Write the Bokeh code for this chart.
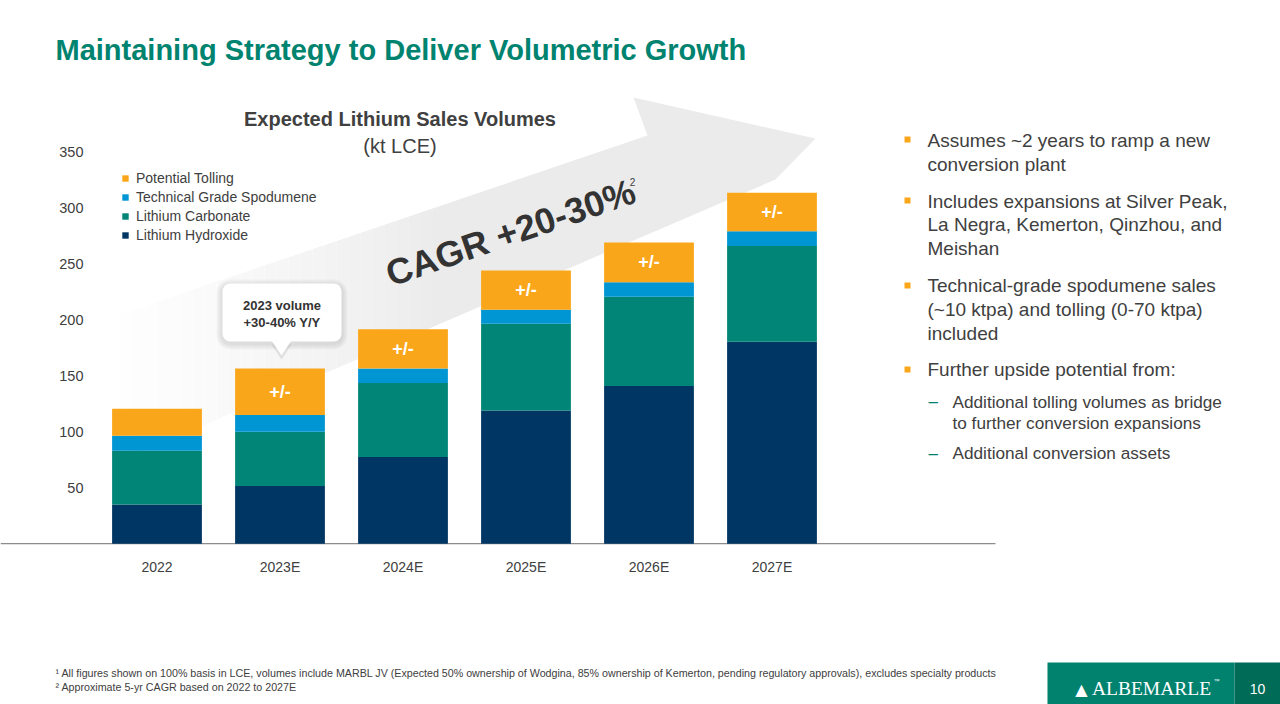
import numpy as np
from bokeh.plotting import figure
from bokeh.layouts import column
from bokeh.models import (ColumnDataSource, Range1d, FixedTicker, Legend, LegendItem, Label)
from bokeh.core.properties import value
from bokeh.embed import file_html
from bokeh.resources import INLINE

# ---------------- data ----------------
years = ["2022", "2023E", "2024E", "2025E", "2026E", "2027E"]
hydroxide = [35, 51.5, 77.5, 119, 141, 180.5]
carbonate = [48, 48.5, 66, 77.5, 79.5, 85.5]
spodumene = [13.5, 15, 13, 12.5, 13, 13]
tolling = [24, 41.5, 35, 35, 35.5, 34.5]
tolling_tags = ["", "+/-", "+/-", "+/-", "+/-", "+/-"]
series_keys = ["hydroxide", "carbonate", "spodumene", "tolling"]
series_names = ["Lithium Hydroxide", "Lithium Carbonate",
                "Technical Grade Spodumene", "Potential Tolling"]
series_colors = ["#003663", "#008576", "#0095D3", "#FAA61A"]
y_ticks = [50, 100, 150, 200, 250, 300, 350]

title_text = "Maintaining Strategy to Deliver Volumetric Growth"
chart_title = "Expected Lithium Sales Volumes"
chart_subtitle = "(kt LCE)"
cagr_text = "CAGR +20-30%"
callout_lines = ["2023 volume", "+30-40% Y/Y"]
bullets = [
    ["Assumes ~2 years to ramp a new", "conversion plant"],
    ["Includes expansions at Silver Peak,", "La Negra, Kemerton, Qinzhou, and", "Meishan"],
    ["Technical-grade spodumene sales", "(~10 ktpa) and tolling (0-70 ktpa)", "included"],
    ["Further upside potential from:"],
]
sub_bullets = [
    ["Additional tolling volumes as bridge", "to further conversion expansions"],
    ["Additional conversion assets"],
]
footnotes = [
    "\u00b9 All figures shown on 100% basis in LCE, volumes include MARBL JV (Expected 50% ownership of Wodgina, 85% ownership of Kemerton, pending regulatory approvals), excludes specialty products",
    "\u00b2 Approximate 5-yr CAGR based on 2022 to 2027E",
]
logo_text = "ALBEMARLE"
page_number = "10"

# ---------------- layout helpers ----------------
W, H = 1280, 704
CH = 600                 # chart figure height (page px)
FB = 544                 # frame bottom of chart figure
BASE = 543.3             # page y of value 0
X0, PITCH, PXU = 156.5, 123.0, 1.12  # first bar centre, bar pitch, px per unit


def X(px):
    return (px - X0) / PITCH


def Y(py):
    return (BASE - py) / PXU


FONT = "Liberation Sans"
DARK = "#404040"

p = figure(width=W, height=CH, x_range=Range1d(X(0), X(W)), y_range=Range1d(Y(FB), Y(0)),
           output_backend="svg", toolbar_location=None,
           min_border_left=0, min_border_right=0, min_border_top=0,
           min_border_bottom=CH - FB)
p.xgrid.visible = False
p.ygrid.visible = False
p.outline_line_color = None
p.background_fill_color = "white"
p.border_fill_color = "white"

# axes
p.xaxis.ticker = FixedTicker(ticks=list(range(len(years))))
p.xaxis.major_label_overrides = {i: y for i, y in enumerate(years)}
p.xaxis.major_tick_line_color = None
p.xaxis.minor_tick_line_color = None
p.xaxis.axis_line_color = None
p.xaxis.major_label_standoff = 8
p.xaxis.major_label_text_font = FONT
p.xaxis.major_label_text_font_size = "14px"
p.xaxis.major_label_text_color = DARK

p.yaxis.ticker = FixedTicker(ticks=y_ticks)
p.yaxis.axis_line_color = None
p.yaxis.major_tick_line_color = None
p.yaxis.minor_tick_line_color = None
p.yaxis.major_label_standoff = -89
p.yaxis.major_label_text_font = FONT
p.yaxis.major_label_text_font_size = "14.5px"
p.yaxis.major_label_text_color = DARK

# ---------------- background arrow ----------------
arrow_px = [(40, 341), (647, 135), (633, 97), (815, 138), (775, 179), (40, 495)]
p.patch([X(a) for a, b in arrow_px], [Y(b) for a, b in arrow_px],
        fill_color="#EBEBEB", line_color=None)
# fade of the arrow tail
edges = np.arange(0, 452, 12)
for a, b in zip(edges[:-1], edges[1:]):
    mid = (a + b) / 2
    alpha = float(np.clip((440 - mid) / 330.0, 0, 1) ** 0.8 * 0.97)
    p.quad(left=X(a), right=X(b + 0.5), bottom=Y(FB), top=Y(0), fill_color="white",
           fill_alpha=alpha, line_color=None)

# axis baseline (ends before the text column)
p.line(x=[X(0), X(995)], y=[0, 0], line_color="#8c8c8c", line_width=1.5)

# ---------------- stacked bars ----------------
src = ColumnDataSource(dict(x=list(range(len(years))), hydroxide=hydroxide,
                            carbonate=carbonate, spodumene=spodumene, tolling=tolling))
rs = p.vbar_stack(series_keys, x="x", width=0.73, color=series_colors, source=src,
                  line_width=0)

mids = [h + c + s + t / 2 for h, c, s, t in zip(hydroxide, carbonate, spodumene, tolling)]
tag_src = ColumnDataSource(dict(x=list(range(len(years))), y=mids, t=tolling_tags))
p.text(x="x", y="y", text="t", source=tag_src, text_font=value(FONT),
       text_font_style="bold", text_font_size="18px", text_color="white",
       text_align="center", text_baseline="middle")

legend = Legend(items=[LegendItem(label=series_names[k], renderers=[rs[k]]) for k in (3, 2, 1, 0)],
                location=(121, 301), glyph_width=8, glyph_height=8,
                label_standoff=7, spacing=3, padding=0, margin=0, border_line_color=None,
                background_fill_alpha=0, label_text_font=FONT,
                label_text_font_size="14px", label_text_color=DARK, label_height=16)
p.add_layout(legend)

# ---------------- callout ----------------


def rrect(x0, y0, x1, y1, r, n=8):
    pts = []
    for cx, cy, t0, t1 in [(x1 - r, y0 + r, -90, 0), (x1 - r, y1 - r, 0, 90),
                           (x0 + r, y1 - r, 90, 180), (x0 + r, y0 + r, 180, 270)]:
        for t in np.linspace(np.deg2rad(t0), np.deg2rad(t1), n):
            pts.append((cx + r * np.cos(t), cy + r * np.sin(t)))
    return [X(a) for a, b in pts], [Y(b) for a, b in pts]


bx0, by0, bx1, by1 = 222, 283, 341, 341
tri = [(271, 340), (281, 355), (291, 340)]
for g in (6, 4, 2):
    xs, ys = rrect(bx0 - g, by0 - g + 2, bx1 + g, by1 + g + 2, 8 + g)
    p.patch(xs, ys, fill_color="#000000", fill_alpha=0.035, line_color=None)
    p.patch([X(a) for a, b in tri], [Y(b + g / 2 + 2) for a, b in tri],
            fill_color="#000000", fill_alpha=0.03, line_color=None)
xs, ys = rrect(bx0, by0, bx1, by1, 8)
p.patch(xs, ys, fill_color="white", line_color=None)
p.patch([X(a) for a, b in tri], [Y(b) for a, b in tri], fill_color="white", line_color=None)
for i, line in enumerate(callout_lines):
    p.add_layout(Label(x=X(281.5), y=Y(305 + 17 * i), text=line, text_align="center",
                       text_baseline="middle", text_font=FONT, text_font_style="bold",
                       text_font_size="13px", text_color="#333333"))

# ---------------- chart titles ----------------
p.add_layout(Label(x=X(399.5), y=Y(118), text=chart_title, text_align="center",
                   text_baseline="middle", text_font=FONT, text_font_style="bold",
                   text_font_size="20px", text_color=DARK))
p.add_layout(Label(x=X(399.5), y=Y(145), text=chart_subtitle, text_align="center",
                   text_baseline="middle", text_font=FONT, text_font_size="20px",
                   text_color=DARK))

p.add_layout(Label(x=X(510), y=Y(232), text=cagr_text, angle=float(np.deg2rad(19)),
                   text_align="center", text_baseline="middle", text_font=FONT,
                   text_font_style="bold", text_font_size="36px", text_color="#333333"))
p.add_layout(Label(x=X(632), y=Y(181), text="2", text_align="center",
                   text_baseline="middle", text_font=FONT, text_font_size="10px",
                   text_color=DARK))

# ---------------- page title ----------------
p.add_layout(Label(x=X(55), y=Y(49), text=title_text, text_align="left",
                   text_baseline="middle", text_font=FONT, text_font_style="bold",
                   text_font_size="29px", text_color="#00836F"))

# ---------------- bullets ----------------
bullet_centers = [[140, 164], [200.5, 224, 248], [285, 309, 332.5], [369]]
bullet_marks_y = [139, 200, 285, 369]
for lines, cys in zip(bullets, bullet_centers):
    for line, cy in zip(lines, cys):
        p.add_layout(Label(x=X(927), y=Y(cy), text=line, text_align="left",
                           text_baseline="middle", text_font=FONT,
                           text_font_size="19px", text_color=DARK))
p.scatter(x=[X(907)] * len(bullet_marks_y), y=[Y(v) for v in bullet_marks_y],
          marker="square", size=6, fill_color="#FAA61A", line_color=None)

sub_centers = [[401, 422], [452.5]]
for lines, cys in zip(sub_bullets, sub_centers):
    p.add_layout(Label(x=X(928), y=Y(cys[0]), text="\u2013", text_align="left",
                       text_baseline="middle", text_font=FONT,
                       text_font_size="17px", text_color="#00836F"))
    for line, cy in zip(lines, cys):
        p.add_layout(Label(x=X(952), y=Y(cy), text=line, text_align="left",
                           text_baseline="middle", text_font=FONT,
                           text_font_size="17.2px", text_color=DARK))

# ---------------- footer figure (page pixel coordinates) ----------------
f = figure(width=W, height=H - CH, x_range=Range1d(0, W), y_range=Range1d(H, CH),
           output_backend="svg", toolbar_location=None, x_axis_type=None, y_axis_type=None,
           min_border=0)
f.grid.visible = False
f.outline_line_color = None
f.background_fill_color = "white"
f.border_fill_color = "white"

for i, t in enumerate(footnotes):
    f.add_layout(Label(x=55, y=672 + 14 * i, text=t, text_align="left",
                       text_baseline="middle", text_font=FONT,
                       text_font_size="10.7px", text_color=DARK))

f.quad(left=[1047, 1234], right=[1234, 1280], top=[662, 662], bottom=[704, 704],
       fill_color=["#00826F", "#006B57"], line_color=None)
f.add_layout(Label(x=1081, y=689, text="\u25B2", text_align="center",
                   text_baseline="middle", text_font="DejaVu Sans", text_font_size="16px",
                   text_color="white"))
f.add_layout(Label(x=1151, y=688, text=logo_text, text_align="center",
                   text_baseline="middle", text_font="Liberation Serif",
                   text_font_size="19.5px", text_color="white"))
f.add_layout(Label(x=1216, y=680, text="\u2122", text_align="center",
                   text_baseline="middle", text_font=FONT, text_font_size="6px",
                   text_color="white"))
f.add_layout(Label(x=1257, y=688, text=page_number, text_align="center",
                   text_baseline="middle", text_font=FONT, text_font_size="14px",
                   text_color="white"))

layout = column(p, f, spacing=0)
open("out.html", "w").write(file_html(layout, INLINE))
